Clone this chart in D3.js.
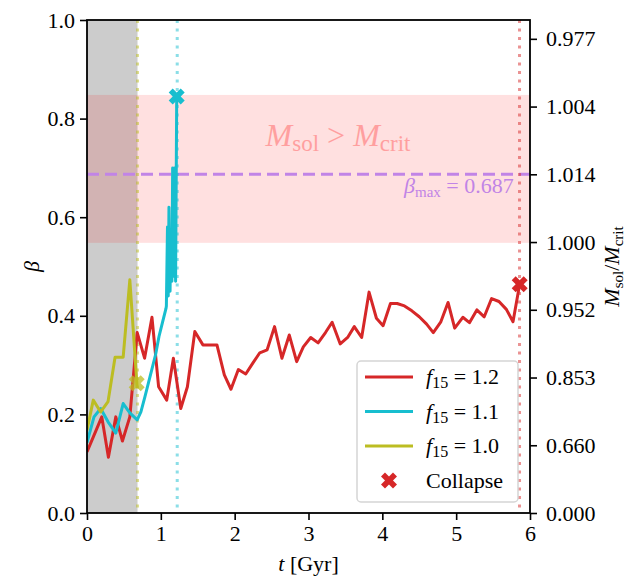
<!DOCTYPE html>
<html>
<head>
<meta charset="utf-8">
<script src="https://cdn.jsdelivr.net/npm/d3@7"></script>
<style>
  body { margin: 0; background: #fff; }
</style>
</head>
<body>
<svg id="chart" width="627" height="578" font-family="Liberation Serif, DejaVu Serif, serif"></svg>
<script>
// f15 = 1.2 run
const tRed = [0, 0.2, 0.29, 0.39, 0.48, 0.58, 0.68, 0.78, 0.88, 0.97, 1.08, 1.17, 1.27, 1.36, 1.46, 1.57, 1.66, 1.76,
  1.86, 1.95, 2.05, 2.15, 2.25, 2.34, 2.44, 2.54, 2.64, 2.74, 2.84, 2.93, 3.03, 3.13, 3.23, 3.32, 3.43, 3.53, 3.62,
  3.72, 3.82, 3.92, 4.01, 4.11, 4.2, 4.3, 4.4, 4.5, 4.6, 4.69, 4.79, 4.89, 4.98, 5.09, 5.18, 5.28, 5.38, 5.48, 5.58,
  5.68, 5.77, 5.86];
const betaRed = [0.124, 0.195, 0.113, 0.195, 0.146, 0.195, 0.366, 0.314, 0.397, 0.256, 0.229, 0.314, 0.212, 0.256,
  0.368, 0.341, 0.341, 0.341, 0.28, 0.251, 0.291, 0.282, 0.305, 0.325, 0.331, 0.378, 0.314, 0.361, 0.307, 0.337,
  0.356, 0.345, 0.366, 0.387, 0.343, 0.356, 0.378, 0.356, 0.448, 0.395, 0.38, 0.425, 0.425, 0.42, 0.41, 0.398, 0.383,
  0.366, 0.387, 0.427, 0.375, 0.397, 0.386, 0.412, 0.398, 0.435, 0.429, 0.413, 0.388, 0.464];

// f15 = 1.1 run
const tCyan = [0, 0.095, 0.185, 0.285, 0.39, 0.49, 0.58, 0.68, 0.73, 0.785, 0.876, 0.93, 0.975, 1.02, 1.07,
  1.075, 1.09, 1.1, 1.11, 1.125, 1.135, 1.15, 1.16, 1.175, 1.185, 1.2, 1.215];
const betaCyan = [0.143, 0.195, 0.212, 0.185, 0.162, 0.222, 0.203, 0.189, 0.205, 0.236, 0.29, 0.322, 0.358, 0.385,
  0.415, 0.42, 0.58, 0.44, 0.62, 0.45, 0.56, 0.47, 0.70, 0.48, 0.70, 0.47, 0.845];

// f15 = 1.0 run
const tYellow = [0, 0.085, 0.185, 0.285, 0.38, 0.49, 0.58, 0.68];
const betaYellow = [0.168, 0.229, 0.205, 0.226, 0.316, 0.316, 0.473, 0.253];

// collapse points
const collapseT = [5.86, 1.215, 0.673];
const collapseBeta = [0.464, 0.845, 0.263];
const collapseColors = ["#d62728", "#17becf", "#bcbd22"];
const collapseTimes = [5.858, 1.222, 0.684];

const betaMax = 0.687;
const bandLow = 0.548, bandHigh = 0.848;

const xTicks = [0, 1, 2, 3, 4, 5, 6];
const yTicks = [0, 0.2, 0.4, 0.6, 0.8, 1.0];
const rightTickPos = [0, 0.1374, 0.2748, 0.4122, 0.5496, 0.687, 0.8244, 0.9618];
const rightTickLabels = ["0.000", "0.660", "0.853", "0.952", "1.000", "1.014", "1.004", "0.977"];

const legendLabels = ["1.2", "1.1", "1.0"];
const legendColors = ["#d62728", "#17becf", "#bcbd22"];

const margin = {top: 20, right: 97, bottom: 65, left: 87};
const width = 627 - margin.left - margin.right;
const height = 578 - margin.top - margin.bottom;

const svg = d3.select("#chart");
const g = svg.append("g").attr("transform", `translate(${margin.left},${margin.top})`);

const x = d3.scaleLinear().domain([0, 6]).range([0, width]);
const y = d3.scaleLinear().domain([0, 1]).range([height, 0]);

g.append("defs").append("clipPath").attr("id", "clip")
  .append("rect").attr("width", width).attr("height", height);

const plot = g.append("g").attr("clip-path", "url(#clip)");

// grey region before yellow collapse
plot.append("rect")
  .attr("x", x(0)).attr("y", 0)
  .attr("width", x(collapseTimes[2]) - x(0)).attr("height", height)
  .attr("fill", "#cccccc");

// M_sol > M_crit band
plot.append("rect")
  .attr("x", 0).attr("y", y(bandHigh))
  .attr("width", width).attr("height", y(bandLow) - y(bandHigh))
  .attr("fill", "rgba(255,0,0,0.12)");

plot.append("text")
  .attr("x", x(3.4)).attr("y", y(0.745))
  .attr("text-anchor", "middle")
  .attr("fill", "#ff9f9f")
  .attr("font-size", 32)
  .call(t => {
    t.append("tspan").attr("font-style", "italic").text("M");
    t.append("tspan").attr("font-size", 23).attr("dy", 5).text("sol");
    t.append("tspan").attr("dy", -5).text(" > ");
    t.append("tspan").attr("font-style", "italic").text("M");
    t.append("tspan").attr("font-size", 23).attr("dy", 5).text("crit");
  });

// beta_max line
plot.append("line")
  .attr("x1", 0).attr("x2", width)
  .attr("y1", y(betaMax)).attr("y2", y(betaMax))
  .attr("stroke", "#c184e6").attr("stroke-width", 3)
  .attr("stroke-dasharray", "12,6");

plot.append("text")
  .attr("x", x(5.78)).attr("y", y(betaMax) + 19)
  .attr("text-anchor", "end")
  .attr("fill", "#c184e6")
  .attr("font-size", 22)
  .call(t => {
    t.append("tspan").attr("font-style", "italic").text("β");
    t.append("tspan").attr("font-size", 15).attr("dy", 4).text("max");
    t.append("tspan").attr("dy", -4).text(" = 0.687");
  });

// collapse time markers
plot.selectAll("line.tc")
  .data(collapseTimes)
  .join("line")
  .attr("class", "tc")
  .attr("x1", d => x(d)).attr("x2", d => x(d))
  .attr("y1", 0).attr("y2", height)
  .attr("stroke", (d, i) => collapseColors[i])
  .attr("stroke-opacity", 0.5)
  .attr("stroke-width", 3)
  .attr("stroke-dasharray", "3,5.5");

const line = d3.line()
  .x(d => x(d[0]))
  .y(d => y(d[1]));

const series = [
  {data: d3.zip(tYellow, betaYellow), color: "#bcbd22"},
  {data: d3.zip(tCyan, betaCyan), color: "#17becf"},
  {data: d3.zip(tRed, betaRed), color: "#d62728"}
];

// red first, then cyan, then yellow
plot.selectAll("path.run")
  .data([series[2], series[1], series[0]])
  .join("path")
  .attr("class", "run")
  .attr("d", d => line(d.data))
  .attr("fill", "none")
  .attr("stroke", d => d.color)
  .attr("stroke-width", 3)
  .attr("stroke-linejoin", "round");

const xMark = d3.symbol(d3.symbolCross, 160);

g.selectAll("path.collapse")
  .data(d3.zip(collapseT, collapseBeta))
  .join("path")
  .attr("class", "collapse")
  .attr("d", xMark)
  .attr("transform", d => `translate(${x(d[0])},${y(d[1])}) rotate(45)`)
  .attr("fill", (d, i) => collapseColors[i])
  .attr("fill-opacity", (d, i) => i === 2 ? 0.75 : 1);

// axes
const axisFont = 22;

const xAxis = g.append("g")
  .attr("transform", `translate(0,${height})`)
  .call(d3.axisBottom(x).tickValues(xTicks).tickFormat(d3.format("d")).tickSizeInner(7).tickSizeOuter(0).tickPadding(5));

const yAxis = g.append("g")
  .call(d3.axisLeft(y).tickValues(yTicks).tickFormat(d3.format(".1f")).tickSizeInner(7).tickSizeOuter(0).tickPadding(5));

const yRight = g.append("g")
  .attr("transform", `translate(${width},0)`)
  .call(d3.axisRight(y).tickValues(rightTickPos).tickFormat((d, i) => rightTickLabels[i]).tickSizeInner(7).tickSizeOuter(0).tickPadding(9));

[xAxis, yAxis, yRight].forEach(a => {
  a.attr("font-family", null).attr("font-size", axisFont);
  a.select(".domain").remove();
  a.selectAll(".tick line").attr("stroke-width", 1.6);
  a.selectAll(".tick text").attr("fill", "#000");
});

g.append("rect")
  .attr("width", width).attr("height", height)
  .attr("fill", "none").attr("stroke", "#000").attr("stroke-width", 1.8);

// axis labels
g.append("text")
  .attr("x", width / 2).attr("y", height + 58)
  .attr("text-anchor", "middle")
  .attr("font-size", 22)
  .call(t => {
    t.append("tspan").attr("font-style", "italic").text("t");
    t.append("tspan").text(" [Gyr]");
  });

g.append("text")
  .attr("transform", `translate(-48,${height / 2}) rotate(-90)`)
  .attr("text-anchor", "middle")
  .attr("font-size", 22)
  .attr("font-style", "italic")
  .text("β");

g.append("text")
  .attr("transform", `translate(${width + 89},${height / 2}) rotate(-90)`)
  .attr("text-anchor", "middle")
  .attr("font-size", 22)
  .call(t => {
    t.append("tspan").attr("font-style", "italic").text("M");
    t.append("tspan").attr("font-size", 15).attr("dy", 4).text("sol");
    t.append("tspan").attr("dy", -4).text("/");
    t.append("tspan").attr("font-style", "italic").text("M");
    t.append("tspan").attr("font-size", 15).attr("dy", 4).text("crit");
  });

// legend
const legend = g.append("g").attr("transform", "translate(270,341)");

legend.append("rect")
  .attr("width", 161).attr("height", 141)
  .attr("rx", 4)
  .attr("fill", "rgba(255,255,255,0.85)")
  .attr("stroke", "#d5d5d5").attr("stroke-width", 1.5);

const rows = legend.selectAll("g.row")
  .data(legendLabels)
  .join("g")
  .attr("class", "row")
  .attr("transform", (d, i) => `translate(0,${16 + i * 34.5})`);

rows.append("line")
  .attr("x1", 8).attr("x2", 56)
  .attr("stroke", (d, i) => legendColors[i])
  .attr("stroke-width", 3);

rows.append("text")
  .attr("x", 69).attr("y", 7)
  .attr("font-size", 22)
  .call(t => {
    t.append("tspan").attr("font-style", "italic").text("f");
    t.append("tspan").attr("font-size", 16).attr("dy", 4).text("15");
    t.append("tspan").attr("dy", -4).text(" = ");
  })
  .append("tspan").text(d => d);

legend.append("path")
  .attr("d", xMark)
  .attr("transform", `translate(32,${16 + 3 * 34.5}) rotate(45)`)
  .attr("fill", "#d62728");

legend.append("text")
  .attr("x", 69).attr("y", 16 + 3 * 34.5 + 7)
  .attr("font-size", 22)
  .text("Collapse");
</script>
</body>
</html>
